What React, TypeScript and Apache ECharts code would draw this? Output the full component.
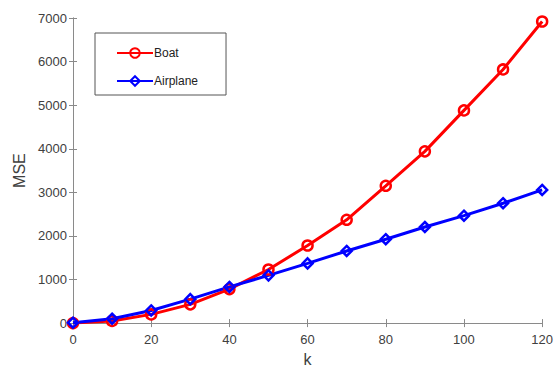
import React, { useEffect, useRef } from "react";
import * as echarts from "echarts";

const kValues = [0, 10, 20, 30, 40, 50, 60, 70, 80, 90, 100, 110, 120];
const boat = [0, 50, 200, 430, 780, 1230, 1780, 2370, 3150, 3940, 4880, 5820, 6920];
const airplane = [10, 100, 290, 550, 830, 1095, 1370, 1655, 1925, 2205, 2465, 2750, 3055];

const axisColor = "#8a8a8a";
const textColor = "#404040";
const font = "'Liberation Sans', Arial, sans-serif";

export default function App() {
  const ref = useRef<HTMLDivElement>(null);
  useEffect(() => {
    if (!ref.current) return;
    const chart = echarts.init(ref.current, undefined, { renderer: "svg" });
    const mk = (name: string, data: number[], color: string, symbol: string) => ({
      name,
      type: "line",
      data: kValues.map((k, i) => [k, data[i]]),
      symbol,
      symbolSize: 10,
      showAllSymbol: true,
      lineStyle: { color, width: 3 },
      itemStyle: { color: "rgba(255,255,255,0)", borderColor: color, borderWidth: 2.5 },
      emphasis: { disabled: true },
    });
    const xBase = {
      type: "value",
      min: 0,
      max: 120,
      interval: 20,
      splitLine: { show: false },
      axisLine: { show: true, lineStyle: { color: axisColor, width: 1 } },
      axisTick: { show: true, inside: true, length: 4, lineStyle: { color: axisColor } },
    };
    const yBase = {
      type: "value",
      min: 0,
      max: 7000,
      interval: 1000,
      splitLine: { show: false },
      axisLine: { show: true, lineStyle: { color: axisColor, width: 1 } },
      axisTick: { show: true, inside: true, length: 4, lineStyle: { color: axisColor } },
    };
    chart.setOption({
      animation: false,
      backgroundColor: "#fff",
      textStyle: { fontFamily: font },
      grid: { left: 73, right: 11, top: 18, bottom: 43, containLabel: false },
      legend: {
        left: 95,
        top: 33,
        orient: "vertical",
        itemWidth: 36,
        itemHeight: 12,
        itemGap: 16,
        padding: [14, 28, 8, 21],
        borderColor: "#555",
        borderWidth: 1,
        backgroundColor: "#fff",
        textStyle: { color: "#222", fontSize: 12, fontFamily: font, padding: [0, 0, 0, -4] },
        data: ["Boat", "Airplane"],
      },
      xAxis: [
        {
          ...xBase,
          position: "bottom",
          name: "k",
          nameLocation: "middle",
          nameGap: 26,
          nameTextStyle: { color: textColor, fontSize: 16, fontFamily: font },
          axisLabel: { color: textColor, fontSize: 13, margin: 10, fontFamily: font },
        },
        { ...xBase, position: "top", axisLabel: { show: false } },
      ],
      yAxis: [
        {
          ...yBase,
          position: "left",
          name: "MSE",
          nameLocation: "middle",
          nameGap: 42,
          nameRotate: 90,
          nameTextStyle: { color: textColor, fontSize: 16, fontFamily: font },
          axisLabel: {
            color: textColor,
            fontSize: 13,
            margin: 6,
            fontFamily: font,
            formatter: (v: number) => String(v),
          },
        },
        { ...yBase, position: "right", axisLabel: { show: false } },
      ],
      series: [
        mk("Boat", boat, "#ff0000", "circle"),
        mk("Airplane", airplane, "#0000ff", "diamond"),
      ],
    });
    return () => chart.dispose();
  }, []);
  return <div ref={ref} style={{ width: 556, height: 372, position: "absolute", left: 0, top: 0 }} />;
}
